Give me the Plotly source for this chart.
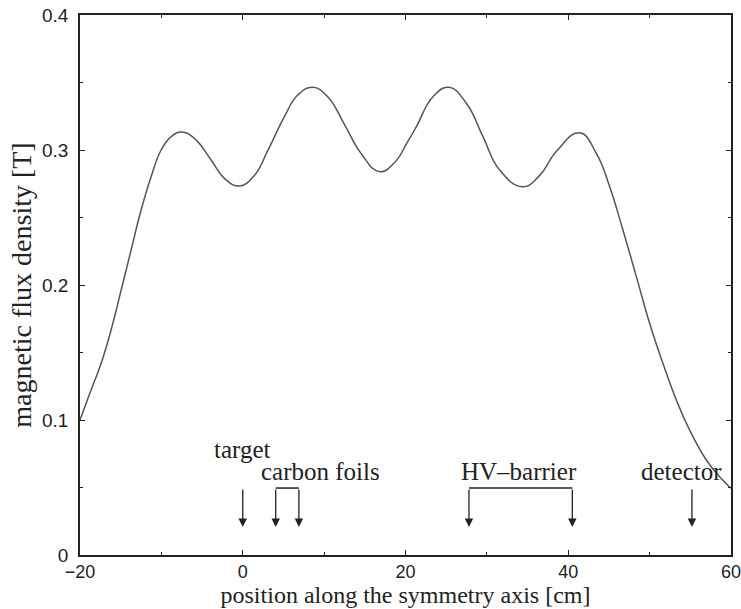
import plotly.graph_objects as go

# Magnetic flux density along the symmetry axis
position_cm = [-20.0, -18.64, -17.4, -16.18, -14.95, -13.72, -12.49, -11.26, -10.03, -8.8,
               -7.49, -5.94, -3.89, -2.25, -0.41, 1.43, 3.07, 5.12, 6.76, 8.6,
               10.44, 12.49, 14.53, 16.79, 18.63, 20.27, 21.34, 23.38, 25.35, 27.48,
               29.52, 31.57, 34.36, 36.49, 38.54, 41.4, 43.45, 45.09, 46.72, 48.37,
               50.0, 51.63, 53.28, 54.91, 56.97, 58.6, 60.0]
flux_T = [0.100, 0.1222, 0.142, 0.1667, 0.196, 0.2259, 0.2556, 0.2802, 0.300, 0.3099,
          0.3133, 0.3086, 0.2926, 0.279, 0.2733, 0.2812, 0.2995, 0.3247, 0.3407, 0.3464,
          0.3395, 0.3190, 0.2975, 0.284, 0.2905, 0.3062, 0.3173, 0.3395, 0.3464, 0.3346,
          0.3099, 0.2852, 0.2728, 0.2812, 0.2990, 0.3128, 0.2975, 0.2728, 0.2407, 0.2062,
          0.1716, 0.142, 0.1148, 0.0926, 0.0704, 0.058, 0.0494]

# Component positions along the axis [cm]
target_pos = [0.0]
foil_pos = [4.05, 6.9]
hv_pos = [27.8, 40.5]
detector_pos = [55.2]
arrow_top = 0.0496
arrow_tip = 0.0207

# Labels: text, x [cm], y [T]
label_text = ["target", "carbon foils", "HV\u2013barrier", "detector"]
label_x = [0.0, 9.6, 34.0, 53.9]
label_y = [0.0785, 0.0622, 0.0615, 0.0615]

x_tickvals = [-20, 0, 20, 40, 60]
y_tickvals = [0, 0.1, 0.2, 0.3, 0.4]
y_ticktext = ["0", "0.1", "0.2", "0.3", "0.4"]

serif = "Liberation Serif, Times New Roman, serif"
sans = "Liberation Sans, Arial, sans-serif"
ink = "#222222"

fig = go.Figure()
fig.add_trace(go.Scatter(
    x=position_cm, y=flux_T, mode="lines",
    line=dict(color="#555555", width=1.5, shape="spline", smoothing=1.3),
    hoverinfo="skip", showlegend=False,
))

annotations = []
shapes = []

def add_arrow(xpos):
    annotations.append(dict(
        x=xpos, y=arrow_tip, ax=xpos, ay=arrow_top,
        xref="x", yref="y", axref="x", ayref="y",
        showarrow=True, arrowhead=2, arrowsize=1.3, arrowwidth=1.3,
        arrowcolor=ink, text="",
    ))

for xp in target_pos + foil_pos + hv_pos + detector_pos:
    add_arrow(xp)

for pair in (foil_pos, hv_pos):
    shapes.append(dict(type="line", xref="x", yref="y",
                       x0=pair[0], x1=pair[1], y0=arrow_top, y1=arrow_top,
                       line=dict(color=ink, width=1.5)))

for t, xl, yl in zip(label_text, label_x, label_y):
    annotations.append(dict(x=xl, y=yl, xref="x", yref="y", text=t,
                            showarrow=False, font=dict(family=serif, size=25, color=ink),
                            xanchor="center", yanchor="middle"))

fig.update_layout(
    width=741, height=609,
    margin=dict(l=80, r=10, t=15, b=54),
    paper_bgcolor="white", plot_bgcolor="white",
    annotations=annotations, shapes=shapes,
    xaxis=dict(
        range=[-20, 60], tickvals=x_tickvals, automargin=False,
        ticklabeloverflow="allow", ticklabelstandoff=0,
        ticks="inside", ticklen=5, tickwidth=1, tickcolor=ink,
        minor=dict(dtick=10, ticks="inside", ticklen=3, tickcolor=ink),
        showline=True, linecolor=ink, linewidth=1.5, mirror="ticks",
        showgrid=False, zeroline=False,
        tickfont=dict(family=sans, size=18, color=ink),
        title=dict(text="position along the symmetry axis [cm]",
                   font=dict(family=serif, size=24, color=ink), standoff=2),
    ),
    yaxis=dict(
        range=[0, 0.4], tickvals=y_tickvals, ticktext=y_ticktext, automargin=False,
        ticklabeloverflow="allow", ticklabelstandoff=6,
        ticks="inside", ticklen=5, tickwidth=1, tickcolor=ink,
        minor=dict(dtick=0.05, ticks="inside", ticklen=3, tickcolor=ink),
        showline=True, linecolor=ink, linewidth=1.5, mirror="ticks",
        showgrid=False, zeroline=False,
        tickfont=dict(family=sans, size=19, color=ink),
        title=dict(text="magnetic flux density [T]",
                   font=dict(family=serif, size=28, color=ink), standoff=2),
    ),
)

fig.write_html("out.html")
